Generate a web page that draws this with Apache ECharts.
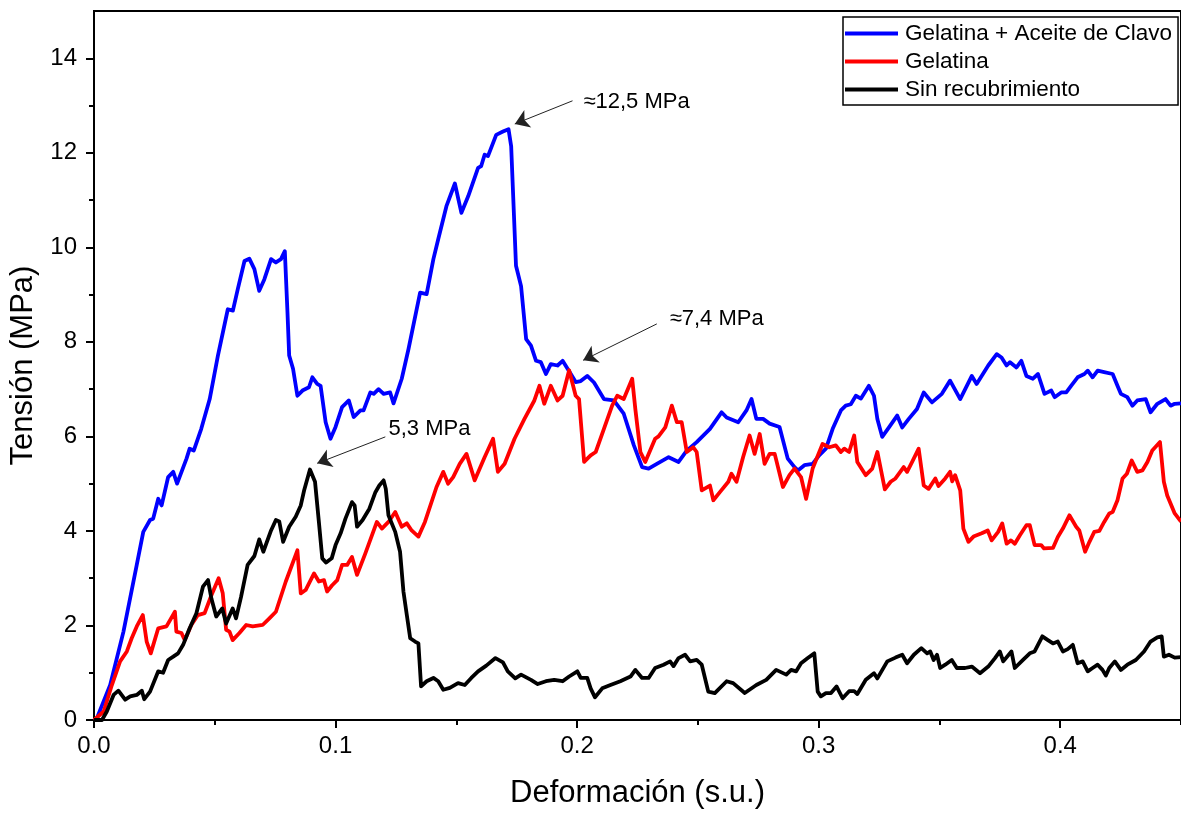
<!DOCTYPE html>
<html>
<head>
<meta charset="utf-8">
<script src="https://cdn.jsdelivr.net/npm/echarts@6/dist/echarts.min.js"></script>
<style>
  html, body { margin: 0; padding: 0; background: #fff; }
  #chart { width: 1181px; height: 814px; }
</style>
</head>
<body>
<div id="chart"></div>
<script>
// Stress–strain curves: [strain (s.u.), stress (MPa)]
const seriesNames = ['Gelatina + Aceite de Clavo', 'Gelatina', 'Sin recubrimiento'];
const seriesColors = ['#0000ff', '#ff0000', '#000000'];

const gelatinaClavo = [
  [0,0],[0.0012,0.04],[0.0067,0.74],[0.0122,1.87],[0.0177,3.28],[0.0204,3.98],[0.0232,4.23],[0.0245,4.26],
  [0.0266,4.68],[0.0280,4.54],[0.0307,5.14],[0.0328,5.25],[0.0344,5.0],[0.0383,5.53],[0.0396,5.74],[0.0413,5.70],
  [0.0444,6.16],[0.0479,6.79],[0.0513,7.71],[0.0554,8.69],[0.0575,8.66],[0.0595,9.11],[0.0623,9.71],[0.0643,9.76],
  [0.0664,9.54],[0.0684,9.08],[0.0705,9.32],[0.0733,9.75],[0.0753,9.68],[0.0774,9.75],[0.0790,9.92],[0.0801,8.62],
  [0.0808,7.71],[0.0824,7.43],[0.0842,6.86],[0.0863,6.97],[0.0890,7.04],[0.0904,7.25],[0.0924,7.11],[0.0938,7.07],
  [0.0959,6.30],[0.0979,5.95],[0.1000,6.20],[0.1027,6.62],[0.1055,6.76],[0.1075,6.41],[0.1103,6.55],[0.1116,6.55],
  [0.1144,6.93],[0.1158,6.90],[0.1178,7.00],[0.1199,6.90],[0.1226,6.93],[0.1240,6.70],[0.1274,7.22],[0.1302,7.85],
  [0.1350,9.04],[0.1377,9.01],[0.1405,9.75],[0.1425,10.17],[0.1459,10.87],[0.1494,11.35],[0.1521,10.73],[0.1549,11.08],
  [0.1590,11.68],[0.1603,11.72],[0.1617,11.96],[0.1631,11.93],[0.1665,12.38],[0.1693,12.45],[0.1716,12.5],[0.1727,12.14],
  [0.1747,9.61],[0.1768,9.18],[0.1789,8.06],[0.1809,7.92],[0.1830,7.60],[0.1850,7.57],[0.1871,7.32],[0.1891,7.53],
  [0.1919,7.50],[0.1940,7.60],[0.1974,7.32],[0.1994,7.15],[0.2015,7.17],[0.2042,7.28],[0.2070,7.14],[0.2111,6.79],
  [0.2152,6.76],[0.2193,6.48],[0.2235,5.81],[0.2269,5.35],[0.2296,5.32],[0.2330,5.42],[0.2379,5.56],[0.2420,5.46],
  [0.2454,5.70],[0.2495,5.88],[0.2550,6.16],[0.2598,6.51],[0.2619,6.40],[0.2667,6.30],[0.2701,6.55],[0.2722,6.79],
  [0.2742,6.37],[0.2770,6.37],[0.2797,6.27],[0.2838,6.20],[0.2872,5.53],[0.2900,5.35],[0.2914,5.28],[0.2941,5.39],
  [0.2975,5.42],[0.3002,5.60],[0.3030,5.74],[0.3058,6.16],[0.3092,6.55],[0.3112,6.65],[0.3133,6.68],[0.3154,6.86],
  [0.3175,6.80],[0.3208,7.07],[0.3229,6.86],[0.3243,6.37],[0.3263,5.99],[0.3291,6.19],[0.3325,6.44],[0.3346,6.19],
  [0.3373,6.37],[0.3407,6.58],[0.3435,6.93],[0.3469,6.72],[0.3510,6.90],[0.3544,7.18],[0.3586,6.79],[0.3634,7.28],
  [0.3654,7.11],[0.3702,7.50],[0.3737,7.74],[0.3757,7.67],[0.3778,7.50],[0.3792,7.57],[0.3819,7.46],[0.3839,7.60],
  [0.3860,7.28],[0.3887,7.22],[0.3908,7.32],[0.3935,6.90],[0.3963,6.97],[0.3977,6.83],[0.4004,6.93],[0.4025,6.93],
  [0.4045,7.07],[0.4072,7.25],[0.4100,7.32],[0.4114,7.39],[0.4134,7.25],[0.4155,7.39],[0.4182,7.36],[0.4217,7.32],
  [0.4237,7.07],[0.4251,6.90],[0.4278,6.83],[0.4299,6.65],[0.4319,6.76],[0.4354,6.79],[0.4374,6.51],[0.4402,6.69],
  [0.4436,6.79],[0.4457,6.65],[0.4474,6.69],[0.45,6.70]
];

const gelatina = [
  [0,0],[0.0040,0.18],[0.0074,0.74],[0.0108,1.24],[0.0136,1.45],[0.0156,1.73],[0.0177,1.98],[0.0202,2.22],
  [0.0218,1.66],[0.0235,1.41],[0.0266,1.94],[0.0300,1.98],[0.0335,2.29],[0.0341,1.87],[0.0362,1.84],[0.0376,1.69],
  [0.0403,2.01],[0.0430,2.22],[0.0458,2.26],[0.0486,2.64],[0.0516,3.00],[0.0533,2.68],[0.0547,1.91],[0.0561,1.87],
  [0.0574,1.69],[0.0602,1.84],[0.0630,2.01],[0.0657,1.98],[0.0698,2.01],[0.0726,2.15],[0.0753,2.29],[0.0794,2.93],
  [0.0842,3.59],[0.0856,2.68],[0.0876,2.75],[0.0911,3.10],[0.0931,2.93],[0.0952,2.96],[0.0965,2.72],[0.0986,2.85],
  [0.1007,2.96],[0.1027,3.28],[0.1048,3.28],[0.1068,3.45],[0.1089,3.07],[0.1123,3.52],[0.1171,4.19],[0.1192,4.05],
  [0.1219,4.19],[0.1247,4.40],[0.1254,4.42],[0.1274,4.09],[0.1295,4.16],[0.1315,4.01],[0.1343,3.88],[0.1370,4.19],
  [0.1418,4.93],[0.1446,5.25],[0.1466,5.00],[0.1487,5.14],[0.1514,5.42],[0.1542,5.63],[0.1576,5.07],[0.1617,5.56],
  [0.1652,5.95],[0.1672,5.25],[0.1700,5.42],[0.1741,5.95],[0.1782,6.37],[0.1823,6.76],[0.1844,7.07],[0.1864,6.69],
  [0.1891,7.07],[0.1919,6.76],[0.1940,6.86],[0.1967,7.4],[0.1994,6.86],[0.2008,6.79],[0.2029,5.46],[0.2056,5.60],
  [0.2077,5.67],[0.2111,6.16],[0.2145,6.65],[0.2166,6.86],[0.2193,6.79],[0.2228,7.22],[0.2241,6.58],[0.2262,5.67],
  [0.2282,5.46],[0.2323,5.95],[0.2337,6.00],[0.2365,6.19],[0.2392,6.65],[0.2413,6.30],[0.2433,6.30],[0.2454,5.67],
  [0.2481,5.77],[0.2495,5.67],[0.2516,4.86],[0.2550,4.96],[0.2564,4.65],[0.2591,4.82],[0.2626,5.04],[0.2639,5.21],
  [0.2660,5.04],[0.2687,5.56],[0.2714,6.02],[0.2735,5.63],[0.2756,6.05],[0.2776,5.42],[0.2797,5.63],[0.2818,5.63],
  [0.2852,4.93],[0.2879,5.18],[0.2900,5.32],[0.2927,5.14],[0.2948,4.68],[0.2975,5.32],[0.3016,5.84],[0.3044,5.77],
  [0.3071,5.81],[0.3092,5.67],[0.3106,5.74],[0.3126,5.67],[0.3147,6.02],[0.3160,5.46],[0.3195,5.18],[0.3222,5.32],
  [0.3243,5.67],[0.3274,4.88],[0.3298,5.04],[0.3318,5.11],[0.3352,5.35],[0.3366,5.25],[0.3387,5.46],[0.3414,5.74],
  [0.3435,4.96],[0.3455,4.89],[0.3483,5.11],[0.3496,4.95],[0.3524,5.11],[0.3544,5.25],[0.3553,5.05],[0.3565,5.18],
  [0.3586,4.86],[0.3599,4.05],[0.3620,3.77],[0.3641,3.88],[0.3675,3.95],[0.3700,4.01],[0.3716,3.80],[0.3743,3.98],
  [0.3760,4.16],[0.3778,3.73],[0.3796,3.80],[0.3812,3.73],[0.3833,3.91],[0.3860,4.12],[0.3874,4.12],[0.3894,3.70],
  [0.3921,3.70],[0.3933,3.63],[0.3970,3.64],[0.3990,3.87],[0.4011,4.05],[0.4038,4.33],[0.4066,4.09],[0.4079,4.01],
  [0.4103,3.56],[0.4121,3.77],[0.4141,3.98],[0.4162,4.00],[0.4182,4.19],[0.4203,4.37],[0.4217,4.40],[0.4237,4.65],
  [0.4258,5.11],[0.4276,5.21],[0.4296,5.49],[0.4319,5.25],[0.4340,5.28],[0.4361,5.46],[0.4381,5.70],[0.4413,5.88],
  [0.4429,5.04],[0.4443,4.75],[0.4474,4.37],[0.45,4.20]
];

const sinRecubrimiento = [
  [0,0],[0.0033,0],[0.0053,0.18],[0.0081,0.53],[0.0101,0.62],[0.0129,0.43],[0.0150,0.50],[0.0177,0.53],
  [0.0198,0.62],[0.0208,0.44],[0.0232,0.60],[0.0266,1.03],[0.0286,1.00],[0.0307,1.27],[0.0328,1.34],[0.0348,1.41],
  [0.0369,1.59],[0.0396,1.94],[0.0424,2.26],[0.0451,2.82],[0.0472,2.96],[0.0486,2.57],[0.0506,2.19],[0.0531,2.36],
  [0.0547,2.04],[0.0574,2.36],[0.0588,2.15],[0.0609,2.61],[0.0636,3.28],[0.0664,3.47],[0.0684,3.82],[0.0701,3.56],
  [0.0733,4.01],[0.0753,4.23],[0.0767,4.20],[0.0783,3.77],[0.0808,4.09],[0.0835,4.30],[0.0856,4.54],[0.0870,4.86],
  [0.0894,5.3],[0.0915,5.04],[0.0931,4.19],[0.0945,3.42],[0.0961,3.33],[0.0984,3.42],[0.1000,3.70],[0.1021,3.95],
  [0.1041,4.26],[0.1068,4.61],[0.1079,4.54],[0.1089,4.09],[0.1112,4.23],[0.1140,4.47],[0.1165,4.82],[0.1181,4.96],
  [0.1199,5.07],[0.1208,4.89],[0.1219,4.33],[0.1247,3.98],[0.1267,3.56],[0.1281,2.72],[0.1295,2.22],[0.1309,1.73],
  [0.1329,1.66],[0.1343,1.62],[0.1354,0.71],[0.1377,0.82],[0.1405,0.89],[0.1425,0.82],[0.1446,0.64],[0.1473,0.68],
  [0.1507,0.78],[0.1535,0.74],[0.1562,0.89],[0.1590,1.03],[0.1624,1.15],[0.1662,1.31],[0.1693,1.22],[0.1713,1.03],
  [0.1744,0.88],[0.1768,0.96],[0.1809,0.85],[0.1837,0.76],[0.1871,0.82],[0.1905,0.85],[0.1940,0.82],[0.1967,0.92],
  [0.2001,1.03],[0.2015,0.89],[0.2042,0.89],[0.2056,0.67],[0.2074,0.48],[0.2104,0.67],[0.2138,0.74],[0.2179,0.82],
  [0.2221,0.92],[0.2241,1.06],[0.2269,0.89],[0.2296,0.89],[0.2323,1.10],[0.2358,1.17],[0.2385,1.24],[0.2399,1.14],
  [0.2420,1.31],[0.2447,1.38],[0.2468,1.24],[0.2495,1.27],[0.2516,1.17],[0.2543,0.60],[0.2570,0.57],[0.2619,0.82],
  [0.2646,0.78],[0.2694,0.57],[0.2742,0.74],[0.2783,0.85],[0.2824,1.06],[0.2866,0.96],[0.2886,1.06],[0.2907,1.03],
  [0.2927,1.20],[0.2955,1.31],[0.2982,1.41],[0.2996,0.60],[0.3009,0.50],[0.3030,0.57],[0.3051,0.57],[0.3074,0.71],
  [0.3099,0.46],[0.3126,0.61],[0.3147,0.61],[0.3160,0.55],[0.3195,0.85],[0.3229,0.99],[0.3243,0.88],[0.3284,1.24],
  [0.3318,1.32],[0.3346,1.38],[0.3366,1.20],[0.3394,1.38],[0.3425,1.52],[0.3449,1.41],[0.3462,1.45],[0.3476,1.27],
  [0.3490,1.38],[0.3503,1.10],[0.3524,1.17],[0.3551,1.27],[0.3572,1.10],[0.3606,1.10],[0.3634,1.13],[0.3668,0.99],
  [0.3702,1.13],[0.3730,1.31],[0.3750,1.45],[0.3764,1.24],[0.3798,1.45],[0.3812,1.10],[0.3846,1.27],[0.3874,1.41],
  [0.3894,1.45],[0.3926,1.77],[0.3949,1.69],[0.3970,1.62],[0.3990,1.66],[0.4011,1.45],[0.4031,1.50],[0.4052,1.59],
  [0.4072,1.20],[0.4093,1.24],[0.4114,1.03],[0.4134,1.10],[0.4155,1.17],[0.4175,1.06],[0.4189,0.94],[0.4203,1.10],
  [0.4226,1.24],[0.4251,1.06],[0.4278,1.17],[0.4313,1.27],[0.4347,1.45],[0.4374,1.66],[0.4402,1.75],[0.4420,1.77],
  [0.4429,1.34],[0.4450,1.38],[0.4474,1.32],[0.45,1.33]
];

const curves = [gelatinaClavo, gelatina, sinRecubrimiento];

// Axis ticks and labels
const xMajorTicks = [0, 0.1, 0.2, 0.3, 0.4];
const xMinorTicks = [0.05, 0.15, 0.25, 0.35, 0.45];
const yMajorTicks = [0, 2, 4, 6, 8, 10, 12, 14];
const yMinorTicks = [1, 3, 5, 7, 9, 11, 13];

// Peak callouts: where the text sits, where the arrow starts, and the arrow-head offset from the peak
const callouts = [
  { prefix: '≈', text: [0.2026, 13.07], from: [0.1981, 13.10], tipOffset: [0.0026, 0.11] },
  { prefix: '≈', text: [0.2383, 8.48],  from: [0.2330, 8.38],  tipOffset: [0.0058, 0.21] },
  { prefix: '',  text: [0.1219, 6.16],  from: [0.1206, 5.99],  tipOffset: [0.0030, 0.13] }
];

const FONT = '"Liberation Sans", Arial, Helvetica, sans-serif';

function peakOf(data) {
  let best = data[0];
  for (const p of data) if (p[1] > best[1]) best = p;
  return best;
}

const chart = echarts.init(document.getElementById('chart'), null, { renderer: 'canvas' });

const series = curves.map((data, i) => {
  const peak = peakOf(data);
  const c = callouts[i];
  const label = c.prefix + peak[1].toFixed(1).replace('.', ',') + ' MPa';
  return {
    name: seriesNames[i],
    type: 'line',
    data: data,
    showSymbol: false,
    symbol: 'none',
    smooth: false,
    z: 2 + i,
    lineStyle: { color: seriesColors[i], width: 3.8, join: 'round' },
    itemStyle: { color: seriesColors[i] },
    emphasis: { disabled: true },
    markLine: {
      silent: true,
      symbol: ['none', 'arrow'],
      symbolSize: 14,
      label: { show: false },
      lineStyle: { color: '#222', width: 1, type: 'solid' },
      itemStyle: { color: '#111' },
      emphasis: { disabled: true },
      data: [[
        { coord: c.from },
        { coord: [peak[0] + c.tipOffset[0], peak[1] + c.tipOffset[1]] }
      ]]
    },
    markPoint: {
      silent: true,
      symbol: 'circle',
      symbolSize: 0,
      label: {
        show: true,
        position: 'right',
        distance: 0,
        color: '#000',
        fontSize: 22,
        fontFamily: FONT,
        formatter: label
      },
      data: [{ coord: c.text, value: peak[1] }]
    }
  };
});

const axisCommon = {
  type: 'value',
  splitLine: { show: false },
  axisLine: { show: true, onZero: false, lineStyle: { color: '#000', width: 2 } }
};

const option = {
  animation: false,
  backgroundColor: '#ffffff',
  grid: {
    left: 94, right: -6, top: 11, bottom: 92,
    show: true, borderColor: '#000', borderWidth: 2, backgroundColor: '#fff'
  },
  legend: {
    left: 843, top: 17,
    orient: 'vertical',
    align: 'left',
    icon: 'rect',
    itemWidth: 53, itemHeight: 4,
    itemGap: 5,
    padding: [5, 6, 4, 2],
    borderColor: '#000', borderWidth: 1.5,
    backgroundColor: '#fff',
    textStyle: { color: '#000', fontSize: 22.5, fontFamily: FONT, padding: [0, 0, 0, 2] },
    data: seriesNames
  },
  xAxis: [
    Object.assign({}, axisCommon, {
      min: 0, max: 0.45,
      name: 'Deformación (s.u.)',
      nameLocation: 'middle',
      nameGap: 58,
      nameTextStyle: { color: '#000', fontSize: 31, fontFamily: FONT },
      axisTick: { show: true, inside: false, length: 8, customValues: xMajorTicks, lineStyle: { color: '#000', width: 2 } },
      axisLabel: { show: true, margin: 14, customValues: xMajorTicks, color: '#000', fontSize: 24, fontFamily: FONT,
        formatter: v => v.toFixed(1) }
    }),
    Object.assign({}, axisCommon, {
      min: 0, max: 0.45, position: 'bottom',
      axisLine: { show: false },
      axisTick: { show: true, inside: false, length: 5, customValues: xMinorTicks, lineStyle: { color: '#000', width: 2 } },
      axisLabel: { show: false }
    })
  ],
  yAxis: [
    Object.assign({}, axisCommon, {
      min: 0, max: 15,
      name: 'Tensión (MPa)',
      nameLocation: 'middle',
      nameGap: 50,
      nameTextStyle: { color: '#000', fontSize: 31, fontFamily: FONT },
      axisTick: { show: true, inside: false, length: 8, customValues: yMajorTicks, lineStyle: { color: '#000', width: 2 } },
      axisLabel: { show: true, margin: 17, customValues: yMajorTicks, color: '#000', fontSize: 24, fontFamily: FONT,
        formatter: v => String(v) }
    }),
    Object.assign({}, axisCommon, {
      min: 0, max: 15, position: 'left',
      axisLine: { show: false },
      axisTick: { show: true, inside: false, length: 5, customValues: yMinorTicks, lineStyle: { color: '#000', width: 2 } },
      axisLabel: { show: false }
    })
  ],
  series: series
};

chart.setOption(option);
</script>
</body>
</html>
